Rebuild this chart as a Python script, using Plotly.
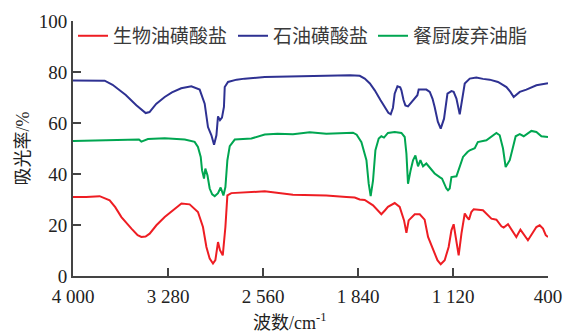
import plotly.graph_objects as go

# ---- data ----
blue_wn = [4000, 3900, 3760, 3700, 3600, 3520, 3449, 3420, 3370, 3305, 3250, 3180, 3103, 3040, 3002, 2977,
           2951, 2931, 2913, 2901, 2886, 2871, 2856, 2850, 2825, 2760, 2699, 2547, 2300, 2080, 1900, 1827,
           1789, 1750, 1713, 1670, 1638, 1610, 1592, 1575, 1562, 1541, 1520, 1511, 1495, 1481, 1461, 1435,
           1410, 1390, 1380, 1322, 1296, 1275, 1259, 1235, 1213, 1188, 1162, 1132, 1115, 1094, 1069, 1049,
           1031, 993, 943, 893, 842, 779, 715, 685, 660, 614, 564, 488, 400]
blue_val = [76.7, 76.7, 76.6, 75.0, 71.0, 67.0, 63.9, 64.3, 67.5, 70.2, 72.0, 73.6, 74.4, 73.1, 67.6, 58.4,
            55.2, 51.5, 55.2, 62.6, 61.1, 62.1, 66.3, 74.1, 76.1, 77.0, 77.4, 78.0, 78.3, 78.6, 78.7, 78.5,
            77.4, 75.5, 72.8, 69.0, 66.3, 64.0, 63.4, 66.0, 71.5, 74.4, 74.0, 72.8, 69.0, 66.9, 66.5, 68.2,
            69.6, 70.9, 73.1, 73.1, 72.2, 69.5, 66.3, 60.5, 57.8, 61.7, 71.5, 72.5, 72.2, 69.6, 63.4, 70.2,
            75.5, 77.4, 77.8, 77.3, 77.0, 76.1, 74.1, 72.2, 70.2, 72.2, 73.1, 74.8, 75.6]

green_wn = [4000, 3800, 3600, 3500, 3482, 3432, 3305, 3153, 3078, 3053, 3032, 3022, 3007, 2997, 2981, 2964,
            2945, 2926, 2901, 2881, 2860, 2845, 2830, 2812, 2774, 2648, 2547, 2450, 2333, 2206, 2080, 1980,
            1878, 1850, 1814, 1776, 1759, 1744, 1726, 1708, 1683, 1663, 1643, 1613, 1562, 1511, 1486, 1473,
            1461, 1441, 1423, 1405, 1385, 1367, 1347, 1322, 1290, 1259, 1221, 1203, 1170, 1158, 1145, 1132,
            1094, 1069, 1044, 1010, 993, 955, 932, 867, 829, 791, 766, 741, 721, 690, 665, 645, 614, 584,
            526, 488, 450, 400]
green_val = [52.9, 53.1, 53.4, 53.5, 52.7, 53.7, 54.0, 53.5, 52.6, 50.6, 46.7, 41.5, 38.2, 42.1, 39.5, 34.3,
             32.0, 31.3, 32.5, 34.7, 31.6, 34.9, 45.4, 50.9, 53.5, 53.9, 55.5, 55.8, 55.6, 56.4, 55.8, 56.1,
             56.2, 55.4, 52.5, 45.4, 36.2, 31.3, 37.5, 49.3, 53.9, 54.8, 54.3, 56.1, 56.5, 56.1, 54.5, 48.0,
             36.2, 41.5, 45.4, 47.3, 43.0, 45.4, 43.0, 44.1, 42.0, 40.2, 38.8, 38.2, 34.3, 33.6, 34.3, 38.8,
             39.1, 43.4, 46.7, 48.6, 49.3, 50.1, 52.5, 53.2, 54.5, 56.1, 55.2, 50.0, 42.7, 45.4, 50.6, 54.8,
             55.6, 54.8, 56.9, 56.5, 54.8, 54.5]

red_wn = [4000, 3900, 3798, 3722, 3680, 3633, 3557, 3510, 3482, 3450, 3419, 3368, 3305, 3240, 3178, 3116,
          3053, 3015, 2989, 2964, 2939, 2921, 2901, 2886, 2865, 2845, 2830, 2800, 2674, 2547, 2333, 2080,
          1928, 1865, 1827, 1789, 1726, 1690, 1663, 1635, 1613, 1562, 1524, 1491, 1473, 1456, 1410, 1372,
          1335, 1309, 1272, 1238, 1213, 1183, 1153, 1132, 1115, 1100, 1077, 1056, 1031, 1014, 999, 981,
          963, 893, 867, 829, 791, 753, 736, 703, 640, 609, 552, 488, 463, 438, 417, 400]
red_val = [31.0, 31.0, 31.3, 29.7, 27.0, 23.1, 18.6, 16.0, 15.3, 15.5, 16.6, 19.9, 23.1, 26.0, 28.4, 28.1,
           25.1, 19.2, 11.4, 6.8, 4.9, 6.2, 13.3, 10.1, 8.1, 19.2, 31.6, 32.5, 32.9, 33.2, 31.9, 31.6,
           31.0, 30.8, 30.0, 29.8, 27.7, 25.5, 24.2, 25.8, 27.1, 28.6, 27.1, 21.8, 16.9, 21.8, 24.2, 24.2,
           22.1, 15.3, 10.7, 6.2, 4.6, 6.2, 11.4, 17.9, 20.3, 15.3, 8.1, 16.6, 24.5, 23.1, 22.1, 25.1,
           26.2, 25.8, 24.5, 22.5, 22.1, 19.5, 19.0, 20.3, 15.3, 18.2, 14.0, 19.2, 19.9, 18.6, 16.0, 15.3]

series_names = ["生物油磺酸盐", "石油磺酸盐", "餐厨废弃油脂"]
x_tickvals = [4000, 3280, 2560, 1840, 1120, 400]
x_ticktext = ["4 000", "3 280", "2 560", "1 840", "1 120", "400"]
y_tickvals = [0, 20, 40, 60, 80, 100]

colors = ["#ee1d23", "#2e3192", "#00a651"]
legend_ids = ["legend", "legend2", "legend3"]

fig = go.Figure()
for name, xs, ys, c, lg in zip(series_names,
                               [red_wn, blue_wn, green_wn],
                               [red_val, blue_val, green_val],
                               colors, legend_ids):
    fig.add_trace(go.Scatter(x=xs, y=ys, mode="lines", name=name, legend=lg,
                             line=dict(color=c, width=2)))

serif = "Liberation Serif, Noto Sans CJK SC"
leg_common = dict(orientation="h", xanchor="left", y=1.016, yanchor="top",
                  font=dict(family="Noto Sans CJK SC", size=19, color="#3a3a3a"),
                  bgcolor="rgba(0,0,0,0)", itemwidth=30)
fig.update_layout(
    width=566, height=333,
    margin=dict(l=73, r=18, t=21, b=57, autoexpand=False),
    paper_bgcolor="white", plot_bgcolor="white",
    showlegend=True,
    legend=dict(x=0.0, **leg_common),
    legend2=dict(x=(233 - 73) / 475, **leg_common),
    legend3=dict(x=(373 - 73) / 475, **leg_common),
    xaxis=dict(range=[4000, 400], tickvals=x_tickvals, ticktext=x_ticktext, automargin=False,
               showgrid=False, zeroline=False, showline=True, linecolor="#444444", linewidth=2,
               ticks="inside", ticklen=8, tickwidth=2, tickcolor="#444444", ticklabelstandoff=2,
               tickfont=dict(family=serif, size=19, color="#222222")),
    yaxis=dict(range=[0, 100], tickvals=y_tickvals, automargin=False,
               showgrid=False, zeroline=False, showline=True, linecolor="#444444", linewidth=2,
               ticks="inside", ticklen=8, tickwidth=2, tickcolor="#444444",
               tickfont=dict(family=serif, size=19, color="#222222")),
    annotations=[
        dict(text="波数/cm<sup>-1</sup>", xref="paper", yref="paper", x=(290 - 73) / 475, y=-(321 - 276) / 255,
             xanchor="center", yanchor="middle", showarrow=False,
             font=dict(family=serif, size=18, color="#222222")),
        dict(text="吸光率/%", xref="paper", yref="paper", x=-(73 - 22) / 475, y=0.5,
             xanchor="center", yanchor="middle", textangle=-90, showarrow=False,
             font=dict(family=serif, size=18, color="#222222")),
    ],
)

fig.write_html("out.html", config={"displayModeBar": False},
               post_script="document.body.style.margin='0';")
